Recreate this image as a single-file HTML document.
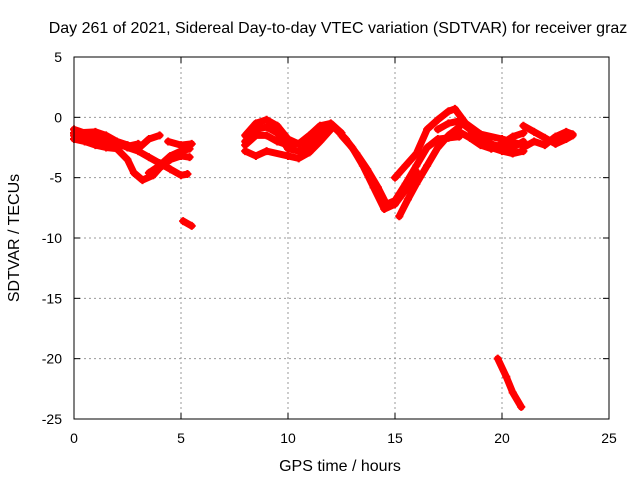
<!DOCTYPE html>
<html><head><meta charset="utf-8"><style>
body{margin:0;background:#fff;}
svg text{font-family:"Liberation Sans",sans-serif;font-size:14px;fill:#000;}
svg text.big{font-size:16px;}
</style></head><body>
<svg id="chart" width="640" height="480">
<g id="grid"></g>
<g id="series"></g>
<rect x="74" y="57" width="535" height="362" fill="none" stroke="#000" stroke-width="1"/>
<g id="ticks"></g>
<text class="big" x="338" y="33" text-anchor="middle">Day 261 of 2021, Sidereal Day-to-day VTEC variation (SDTVAR) for receiver graz</text>
<text class="big" x="340" y="471" text-anchor="middle">GPS time / hours</text>
<text class="big" x="19" y="238" text-anchor="middle" transform="rotate(-90 19 238)">SDTVAR / TECUs</text>
</svg>
<script>
const xTicks=[0,5,10,15,20,25];
const yTicks=[5,0,-5,-10,-15,-20,-25];
const track1=[[0,-1],[0.5,-1.3],[1,-1.5],[1.5,-1.8],[2,-2.1],[2.5,-2.5],[3,-2.8],[3.5,-3.3],[4,-3.8],[4.5,-4.3],[5,-4.8],[5.3,-4.7]];
const track2=[[0,-1.8],[0.5,-2],[1,-2.3],[1.5,-2.5],[2,-2.6],[2.5,-3.5],[2.8,-4.6],[3.2,-5.2],[3.7,-4.8],[4,-4.2],[4.5,-3.5],[5,-3.2],[5.4,-3.3]];
const track3=[[0,-1.3],[1,-1.2],[1.5,-1.5],[2,-2],[2.5,-2.3],[3,-2.6],[3.5,-1.8],[4,-1.5]];
const track4=[[3.5,-4.6],[4,-4],[4.5,-3.2],[5,-2.8],[5.4,-2.6]];
const track5=[[4.4,-2],[5,-2.3],[5.5,-2.2]];
const track6=[[5.1,-8.6],[5.5,-9]];
const track7=[[8,-2.8],[8.5,-3.2],[9,-2.8],[10,-3.2],[10.5,-3.4],[11,-2.9],[11.5,-2],[12,-1]];
const track8=[[8,-1.5],[8.5,-0.5],[9,-0.2],[9.5,-0.7],[10,-1.8],[10.5,-2.2],[11,-1.5],[11.5,-0.7],[12,-0.5],[12.5,-1.3]];
const track9=[[8,-2.3],[8.5,-1.5],[9,-1.5],[9.5,-2],[10,-2.3],[11,-2],[12,-1]];
const track10=[[12.2,-0.9],[12.7,-1.8],[13.2,-3],[13.7,-4.3],[14.2,-5.8],[14.6,-7.2],[15,-6.9],[15.5,-5.5],[16,-4],[16.5,-2.5],[17,-1.8],[17.5,-1.7],[18,-1.6]];
const track11=[[12.5,-1.5],[13,-2.5],[13.5,-4],[14,-5.8],[14.5,-7.6],[15,-7.2],[15.5,-6],[16,-4.5]];
const track12=[[15.2,-8.2],[15.6,-6.8],[16,-5.5],[16.5,-4],[17,-2.5],[17.5,-1.5],[18,-0.8]];
const track13=[[15,-5],[15.5,-4],[16,-3],[16.5,-1],[17,-0.2],[17.5,0.5],[17.8,0.7],[18.3,-0.5],[19,-1.4],[20,-1.8],[21,-2.3]];
const track14=[[17,-1],[17.5,-0.5],[18,-0.3],[18.5,-1],[19,-2],[19.5,-2.5],[20,-2.8],[20.5,-3],[21,-2.8]];
const track15=[[18.5,-1.5],[19,-1.8],[19.5,-2.2],[20,-2.5],[20.5,-2.5],[21,-2]];
const track16=[[21,-0.7],[21.5,-1.2],[22,-1.7],[22.5,-2.2],[23,-1.8],[23.3,-1.5]];
const track17=[[21,-2.5],[21.5,-2],[22,-2.3],[22.5,-1.6],[23,-1.2],[23.3,-1.4]];
const track18=[[19.8,-20],[20.2,-21.5],[20.5,-22.8],[20.9,-24]];
const track19=[[8,-2],[8.5,-1],[9,-0.8],[9.5,-1.3],[10,-2.6],[10.5,-2.8],[11,-2.4],[11.5,-1.3],[12,-0.8]];
const track20=[[0,-1.5],[0.5,-1.7],[1,-1.9],[1.5,-2.1],[2,-2.3],[2.5,-2.4],[3,-2.2]];
const track21=[[18,-1.2],[18.5,-1.7],[19,-2.3],[19.5,-2.6],[20,-2.2],[20.5,-1.6],[21,-1.3]];
const tracks=[track1,track2,track3,track4,track5,track6,track7,track8,track9,track10,track11,track12,track13,track14,track15,track16,track17,track18,track19,track20,track21];
const X0=74,X1=609,Y0=419,Y1=57;
const sx=v=>X0+(v-0)/(25-0)*(X1-X0);
const sy=v=>Y0-(v+25)/(30)*(Y0-Y1);
const NS="http://www.w3.org/2000/svg";
const grid=document.getElementById('grid'),ticks=document.getElementById('ticks'),ser=document.getElementById('series');
function mk(t,a,p){const e=document.createElementNS(NS,t);for(const k in a)e.setAttribute(k,a[k]);p.appendChild(e);return e;}
xTicks.forEach(v=>{
 if(v>0&&v<25){const g=mk('line',{x1:sx(v),x2:sx(v),y1:Y0,y2:Y1,stroke:'#999','stroke-dasharray':'2,3'},grid);
 
 }
 mk('line',{x1:sx(v),x2:sx(v),y1:Y0,y2:Y0-6,stroke:'#000'},ticks);
 mk('line',{x1:sx(v),x2:sx(v),y1:Y1,y2:Y1+6,stroke:'#000'},ticks);
 const t=mk('text',{x:sx(v),y:Y0+24,'text-anchor':'middle'},ticks);t.textContent=v;
 
 
});
yTicks.forEach(v=>{
 if(v<5&&v>-25){const g=mk('line',{x1:X0,x2:X1,y1:sy(v),y2:sy(v),stroke:'#999','stroke-dasharray':'2,3'},grid);
 
 }
 mk('line',{x1:X0,x2:X0+6,y1:sy(v),y2:sy(v),stroke:'#000'},ticks);
 mk('line',{x1:X1,x2:X1-6,y1:sy(v),y2:sy(v),stroke:'#000'},ticks);
 const t=mk('text',{x:X0-12,y:sy(v)+5,'text-anchor':'end'},ticks);t.textContent=v;
 
 
});
tracks.forEach(tr=>{
 const p=mk('polyline',{points:tr.map(d=>sx(d[0])+','+sy(d[1])).join(' '),fill:'none',stroke:'#f00','stroke-width':7,'stroke-linejoin':'round','stroke-linecap':'round'},ser);
 
 
 tr.forEach(d=>{const x=sx(d[0]),y=sy(d[1]);
  const m=mk('path',{d:`M${x-4},${y}H${x+4}M${x},${y-4}V${y+4}`,stroke:'#f00','stroke-width':2},ser);
  
  });
});
</script>
</body></html>
